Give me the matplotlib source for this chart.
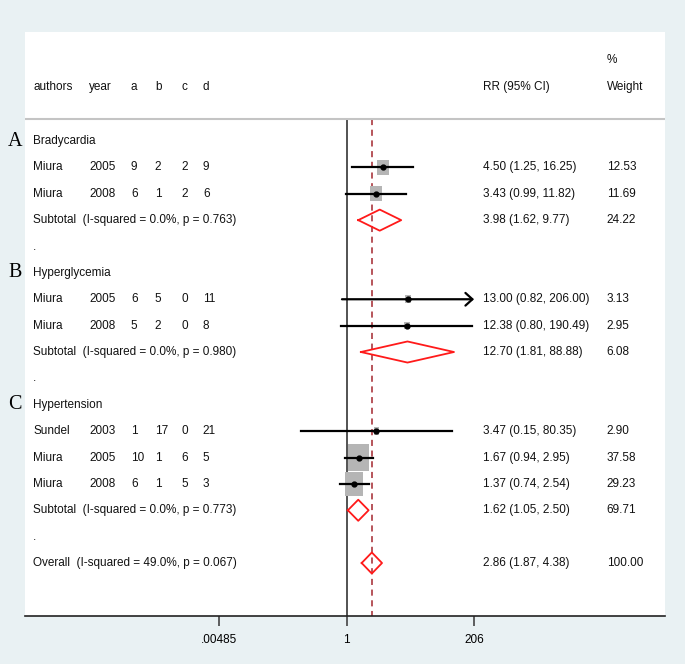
import matplotlib
matplotlib.use('Agg')
import matplotlib.pyplot as plt
import matplotlib.transforms as mtransforms
from matplotlib import font_manager

# Data
group_names = ['Bradycardia', 'Hyperglycemia', 'Hypertension']
group_letters = ['A', 'B', 'C']

authors = ['Miura', 'Miura', 'Miura', 'Miura', 'Sundel', 'Miura', 'Miura']
years = [2005, 2008, 2005, 2008, 2003, 2005, 2008]
a_vals = [9, 6, 6, 5, 1, 10, 6]
b_vals = [2, 1, 5, 2, 17, 1, 1]
c_vals = [2, 2, 0, 0, 0, 6, 5]
d_vals = [9, 6, 11, 8, 21, 5, 3]
rr = [4.50, 3.43, 13.00, 12.38, 3.47, 1.67, 1.37]
rr_lo = [1.25, 0.99, 0.82, 0.80, 0.15, 0.94, 0.74]
rr_hi = [16.25, 11.82, 206.00, 190.49, 80.35, 2.95, 2.54]
weights = [12.53, 11.69, 3.13, 2.95, 2.90, 37.58, 29.23]
study_group = [0, 0, 1, 1, 2, 2, 2]

sub_rr = [3.98, 12.70, 1.62]
sub_lo = [1.62, 1.81, 1.05]
sub_hi = [9.77, 88.88, 2.50]
sub_w = [24.22, 6.08, 69.71]
sub_i2 = ['0.0%', '0.0%', '0.0%']
sub_p = ['0.763', '0.980', '0.773']

overall = (2.86, 1.87, 4.38, 100.00)
overall_i2 = '49.0%'
overall_p = '0.067'

tick_vals = [0.00485, 1, 206]
tick_labels = ['.00485', '1', '206']

# font: narrow sans if available
names = {f.name for f in font_manager.fontManager.ttflist}
if 'Liberation Sans Narrow' in names:
    FONT, FS = 'Liberation Sans Narrow', 10.4
else:
    FONT, FS = 'Liberation Sans', 8.5
plt.rcParams['font.family'] = FONT

fig = plt.figure(figsize=(6.85, 6.64), dpi=100, facecolor='#e9f1f3')
ax = fig.add_axes([25/685, 48/664, 640/685, 584/664])
ax.set_facecolor('white')
ax.set_xscale('log')
ax.set_xlim(10**-5.844, 10**5.782)
ax.set_ylim(18.009, -4.133)
for s in ['top', 'left', 'right']:
    ax.spines[s].set_visible(False)
ax.spines['bottom'].set_linewidth(1.2)
ax.spines['bottom'].set_color('#222222')
ax.set_xticks(tick_vals)
ax.set_xticklabels(tick_labels, fontsize=FS)
ax.minorticks_off()
ax.tick_params(axis='x', length=7, width=1.2, color='#444444', pad=6)
ax.set_yticks([])

tr = mtransforms.blended_transform_factory(ax.transAxes, ax.transData)
cols = [0.0125, 0.1, 0.1656, 0.203, 0.244, 0.278]
x_rr, x_w = 0.7156, 0.909
txt = dict(transform=tr, va='center', fontsize=FS, color='#111111')

# header
hdr_y = -2.05
for x, h in zip(cols, ['authors', 'year', 'a', 'b', 'c', 'd']):
    ax.text(x, hdr_y, h, **txt)
ax.text(x_rr, hdr_y, 'RR (95% CI)', **txt)
ax.text(x_w, hdr_y, 'Weight', **txt)
ax.text(x_w, -3.07, '%', **txt)
ax.axhline(-0.834, color='#c4c4c4', lw=1.5)

box_marker = [(-0.39, -0.5), (0.39, -0.5), (0.39, 0.5), (-0.39, 0.5), (-0.39, -0.5)]


def diamond(y, est, lo, hi):
    ax.plot([lo, est, hi, est, lo], [y, y - 0.4, y, y + 0.4, y],
            color='#ff1a1a', lw=1.3, zorder=4)


row = 0
for g in range(len(group_names)):
    ax.text(-0.005, row, group_letters[g], transform=tr, va='center', ha='right',
            fontsize=14.5, family='Liberation Serif', clip_on=False)
    ax.text(cols[0], row, group_names[g], **txt)
    row += 1
    for i in range(len(rr)):
        if study_group[i] != g:
            continue
        vals = [authors[i], years[i], a_vals[i], b_vals[i], c_vals[i], d_vals[i]]
        for x, v in zip(cols, vals):
            ax.text(x, row, str(v), **txt)
        ax.scatter([rr[i]], [row], s=10 * weights[i], marker=box_marker,
                   color='#b5b5b5', edgecolors='none', zorder=2)
        if rr_hi[i] >= tick_vals[-1]:
            ax.annotate('', xy=(tick_vals[-1], row), xytext=(rr_lo[i], row),
                        arrowprops=dict(arrowstyle='->,head_length=0.42,head_width=0.38',
                                        lw=1.6, color='black', mutation_scale=12,
                                        shrinkA=0, shrinkB=0), zorder=3)
        else:
            ax.plot([rr_lo[i], rr_hi[i]], [row, row], color='black', lw=1.6, zorder=3)
        ax.plot([rr[i]], [row], marker='o', ms=3.5, color='black', zorder=5)
        ax.text(x_rr, row, f'{rr[i]:.2f} ({rr_lo[i]:.2f}, {rr_hi[i]:.2f})', **txt)
        ax.text(x_w, row, f'{weights[i]:.2f}', **txt)
        row += 1
    ax.text(cols[0], row, f'Subtotal  (I-squared = {sub_i2[g]}, p = {sub_p[g]})', **txt)
    diamond(row, sub_rr[g], sub_lo[g], sub_hi[g])
    ax.text(x_rr, row, f'{sub_rr[g]:.2f} ({sub_lo[g]:.2f}, {sub_hi[g]:.2f})', **txt)
    ax.text(x_w, row, f'{sub_w[g]:.2f}', **txt)
    row += 1
    ax.text(cols[0], row, '.', **txt)
    row += 1

est, lo, hi, w = overall
ax.text(cols[0], row, f'Overall  (I-squared = {overall_i2}, p = {overall_p})', **txt)
diamond(row, est, lo, hi)
ax.text(x_rr, row, f'{est:.2f} ({lo:.2f}, {hi:.2f})', **txt)
ax.text(x_w, row, f'{w:.2f}', **txt)

# null line and overall effect line
ax.vlines(1, -0.834, 18.009, color='#444444', lw=1.3, zorder=1)
ax.vlines(est, -0.834, 18.009, color='#a3262e', lw=1.1, linestyles=(0, (4, 3)), zorder=1)

fig.savefig('out.png', dpi=100, facecolor=fig.get_facecolor())
